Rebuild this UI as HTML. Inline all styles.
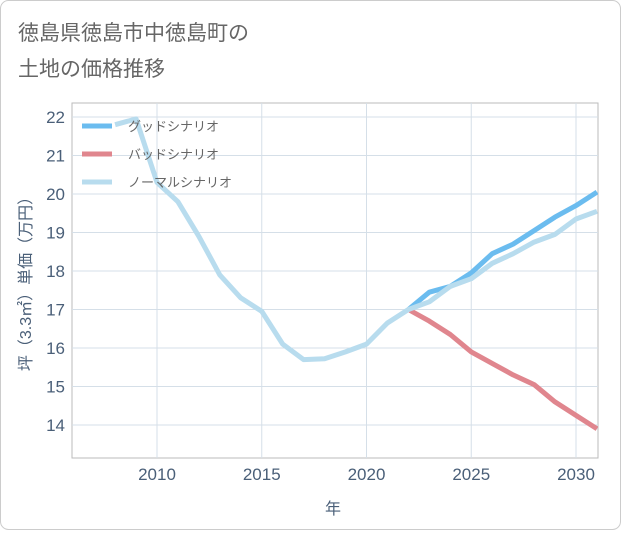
<!DOCTYPE html>
<html><head><meta charset="utf-8"><style>
body{margin:0;background:#fff;}
svg text{font-family:"Liberation Sans","Noto Sans CJK JP",sans-serif;}
</style></head><body>
<svg id="c" width="621" height="530" xmlns="http://www.w3.org/2000/svg">
<rect x="0.5" y="0.5" width="620" height="529" rx="8" fill="#fff" stroke="#ccc"/>
<text x="18" y="40" font-size="21" fill="#666">徳島県徳島市中徳島町の</text>
<text x="18" y="76" font-size="21" fill="#666">土地の価格推移</text>
<g id="grid"></g>
<g id="lines"></g>
<g id="legend"></g>
<text x="333" y="514" font-size="16" fill="#4a5f78" text-anchor="middle">年</text>
<text transform="translate(31,280) rotate(-90)" font-size="16" fill="#4a5f78" text-anchor="middle">坪（3.3㎡）単価（万円）</text>
</svg>
<script>
const years=[2008,2009,2010,2011,2012,2013,2014,2015,2016,2017,2018,2019,2020,2021,2022,2023,2024,2025,2026,2027,2028,2029,2030,2031];
const normal=[21.8,21.95,20.3,19.8,18.9,17.9,17.3,16.95,16.1,15.7,15.72,15.9,16.1,16.65,17.0,17.2,17.6,17.8,18.2,18.45,18.75,18.95,19.35,19.55];
const goodYears=[2022,2023,2024,2025,2026,2027,2028,2029,2030,2031];
const good=[17.0,17.45,17.6,17.95,18.45,18.7,19.05,19.4,19.7,20.05];
const bad=[17.0,16.7,16.35,15.9,15.6,15.3,15.05,14.6,14.25,13.9];
const xTicks=[2010,2015,2020,2025,2030];
const yTicks=[14,15,16,17,18,19,20,21,22];
const X0=72,X1=598,Y0=103,Y1=458;
const xs=y=>157+(y-2010)*20.95;
const ys=v=>117+(22-v)*38.5;
const NS="http://www.w3.org/2000/svg";
function mk(t,a,p){const e=document.createElementNS(NS,t);for(const k in a)e.setAttribute(k,a[k]);p.appendChild(e);return e;}
const g=document.getElementById('grid');
mk('rect',{x:X0,y:Y0,width:X1-X0,height:Y1-Y0,fill:'none',stroke:'#bbb'},g);
xTicks.forEach(t=>{
 const l=mk('line',{x1:xs(t),x2:xs(t),y1:Y0,y2:Y1,stroke:'#d5dfe8'},g);
 
 const tx=mk('text',{x:xs(t),y:480,'font-size':17,fill:'#4a5f78','text-anchor':'middle'},g);tx.textContent=t;
 
});
yTicks.forEach(t=>{
 const l=mk('line',{x1:X0,x2:X1,y1:ys(t),y2:ys(t),stroke:'#d5dfe8'},g);
 
 const tx=mk('text',{x:65,y:ys(t)+6,'font-size':17,fill:'#4a5f78','text-anchor':'end'},g);tx.textContent=t;
 
});
const L=document.getElementById('lines');
function line(xa,va,col,name){
 const d=xa.map((y,i)=>(i?'L':'M')+xs(y).toFixed(1)+','+ys(va[i]).toFixed(1)).join('');
 const p=mk('path',{d:d,fill:'none',stroke:col,'stroke-width':5,'stroke-linejoin':'round'},L);
 
}
const cp=mk('clipPath',{id:'cl'},document.getElementById('c'));mk('rect',{x:X0,y:Y0,width:X1-X0,height:Y1-Y0},cp);
L.setAttribute('clip-path','url(#cl)');
line(goodYears,bad,'#e0868e','bad-scenario-line');
line(goodYears,good,'#6bbcef','good-scenario-line');
line(years,normal,'#b8dcee','normal-scenario-line');
const lg=document.getElementById('legend');
[['グッドシナリオ','#6bbcef'],['バッドシナリオ','#e0868e'],['ノーマルシナリオ','#b8dcee']].forEach((e,i)=>{
 const y=126+i*28;
 const r=mk('line',{x1:82,x2:112,y1:y,y2:y,stroke:e[1],'stroke-width':5},lg);
 
 const t=mk('text',{x:128,y:y+5,'font-size':13,fill:'#666'},lg);t.textContent=e[0];
 
});
</script>
</body></html>
